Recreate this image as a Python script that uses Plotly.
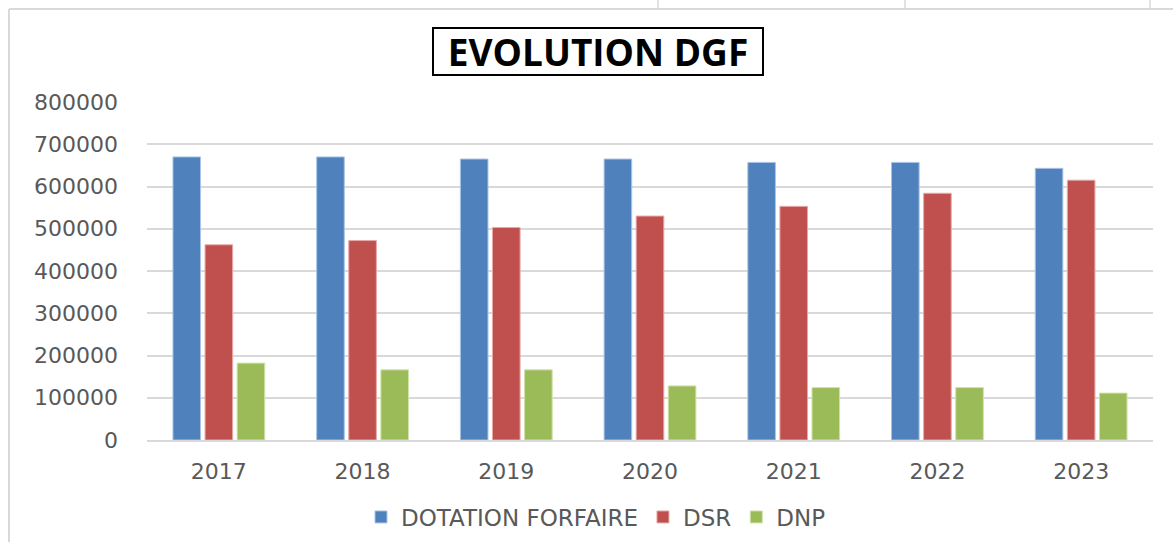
import plotly.graph_objects as go

years = ["2017", "2018", "2019", "2020", "2021", "2022", "2023"]
dotation_forfaire = [670000, 670000, 665000, 665000, 657000, 657000, 643000]
dsr = [462000, 472000, 503000, 530000, 553000, 584000, 615000]
dnp = [182000, 166000, 166000, 128000, 124000, 124000, 111000]

series = [
    ("DOTATION FORFAIRE", dotation_forfaire, "#4F81BD", "#A9C4E6"),
    ("DSR", dsr, "#C0504D", "#E6A9A8"),
    ("DNP", dnp, "#9BBB59", "#CFE3A8"),
]

W, H = 1173, 542
L, R, T, B = 147, 1153, 102, 440

def px(p):
    return (p - L) / (R - L)

def py(q):
    return (B - q) / (B - T)

fig = go.Figure()
for name, vals, col, edge in series:
    fig.add_trace(go.Bar(
        x=years, y=vals, name=name,
        marker=dict(color=col, line=dict(color=edge, width=1)),
    ))

tickfont = dict(family="DejaVu Sans, Verdana, sans-serif", size=22, color="#595959")

fig.update_layout(
    width=W, height=H,
    margin=dict(l=L, r=W - R, t=T, b=H - B, autoexpand=False),
    paper_bgcolor="white", plot_bgcolor="white",
    barmode="group", bargap=0.33, bargroupgap=0.14,
    showlegend=True,
    legend=dict(orientation="h", xref="container", yref="container",
                x=596 / W, xanchor="center", y=(H - 517) / H, yanchor="middle",
                font=dict(family="DejaVu Sans, Verdana, sans-serif", size=23, color="#595959"),
                itemwidth=30, traceorder="normal"),
    xaxis=dict(showgrid=False, showline=True, linecolor="#D9D9D9", linewidth=2,
               ticks="", tickfont=tickfont, ticklabelstandoff=11),
    yaxis=dict(range=[0, 800000], dtick=100000, showgrid=True, gridcolor="#D9D9D9",
               gridwidth=2, zeroline=False, showline=False, ticks="",
               tickfont=tickfont, ticklabelstandoff=28, tickformat="d"),
    annotations=[dict(
        text="<b>EVOLUTION DGF</b>", xref="paper", yref="paper",
        x=px(597.5), y=py(51.5), xanchor="center", yanchor="middle", showarrow=False,
        font=dict(family="Open Sans, sans-serif", size=37, color="black"),
        width=326, height=43,
        bordercolor="black", borderwidth=2, borderpad=1, bgcolor="white",
    )],
    shapes=[
        dict(type="line", xref="paper", yref="paper", x0=px(9), x1=px(1173), y0=py(9), y1=py(9),
             line=dict(color="#D9D9D9", width=2)),
        dict(type="line", xref="paper", yref="paper", x0=px(9), x1=px(9), y0=py(9), y1=py(542),
             line=dict(color="#D9D9D9", width=2)),
        dict(type="line", xref="paper", yref="paper", x0=px(658), x1=px(658), y0=py(0), y1=py(9),
             line=dict(color="#D9D9D9", width=1.5)),
        dict(type="line", xref="paper", yref="paper", x0=px(905), x1=px(905), y0=py(0), y1=py(9),
             line=dict(color="#D9D9D9", width=1.5)),
        dict(type="line", xref="paper", yref="paper", x0=px(1150), x1=px(1150), y0=py(0), y1=py(9),
             line=dict(color="#D9D9D9", width=1.5)),
    ],
)

fig.write_html("out.html", config={"displayModeBar": False},
               post_script="document.body.style.margin='0';document.body.style.overflow='hidden';")
